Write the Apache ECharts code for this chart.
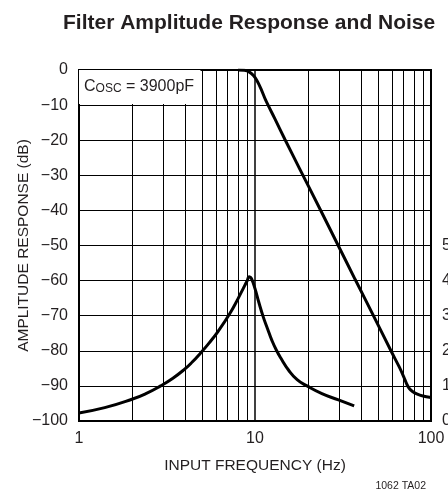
<!DOCTYPE html>
<html><head><meta charset="utf-8">
<script src="https://cdn.jsdelivr.net/npm/echarts@6/dist/echarts.min.js"></script>
<style>html,body{margin:0;padding:0;background:#fff}#c{width:448px;height:497px}</style>
</head><body><div id="c"></div>
<script>
const titleText = 'Filter Amplitude Response and Noise';
const xAxisName = 'INPUT FREQUENCY (Hz)';
const yAxisName = 'AMPLITUDE RESPONSE (dB)';
const footText = '1062 TA02';
const noteText = '{a|C}{b|OSC}{a| = 3900pF}';
const minorGridFreq = [2,3,4,5,6,7,8,9,20,30,40,50,60,70,80,90];

// Amplitude response (left axis, dB)
const ampFreq = [8.0, 8.7, 9.3, 9.8, 10.25, 10.8, 11.5, 13, 14.8, 18, 23.4, 29.7, 37.1, 47, 59.5, 66, 70, 73, 75.5, 78.5, 83, 90, 100];
const ampDb   = [0, -0.1, -0.6, -1.6, -3.0, -5.3, -8.6, -14.0, -19.8, -28.3, -39.6, -50, -59.7, -69.9, -80.2, -84.6, -87.4, -89.6, -90.8, -91.6, -92.3, -92.9, -93.3];

// Noise (right axis units)
const noiseFreq = [1, 1.4, 2.0, 2.4, 2.91, 3.4, 3.97, 4.4, 4.91, 5.48, 6.2, 7.21, 8.0, 8.58, 9.0, 9.28, 9.54, 10.0, 10.5, 11.15, 11.78, 12.44, 13.28, 14.23, 15.46, 17.35, 19.75, 24.0, 29.8, 36.6];
const noiseVal  = [0.23, 0.38, 0.62, 0.78, 1.00, 1.21, 1.47, 1.68, 1.94, 2.22, 2.57, 3.07, 3.48, 3.78, 3.98, 4.11, 4.06, 3.77, 3.39, 2.96, 2.63, 2.31, 2.00, 1.74, 1.46, 1.18, 1.00, 0.78, 0.60, 0.43];

const FONT = "'Liberation Sans', Arial, sans-serif";
const chart = echarts.init(document.getElementById('c'), null, {renderer: 'canvas'});
chart.setOption({
  animation: false,
  backgroundColor: '#fff',
  title: [{
    text: titleText, left: 58, top: 8,
    textStyle: {fontFamily: FONT, fontWeight: 'bold', fontSize: 21, color: '#231f20'}
  }, {
    text: footText, right: 17, bottom: 0,
    textStyle: {fontFamily: FONT, fontWeight: 'normal', fontSize: 10.5, color: '#231f20'}
  }],
  grid: {left: 79, right: 17, top: 70, bottom: 76, containLabel: false, outerBoundsMode: 'none',
    show: true, borderColor: '#000', borderWidth: 2, backgroundColor: 'transparent'},
  xAxis: {
    type: 'log', logBase: 10, min: 1, max: 100,
    name: xAxisName, nameLocation: 'middle', nameGap: 37, nameMoveOverlap: false,
    nameTextStyle: {fontFamily: FONT, fontSize: 15.5, color: '#231f20'},
    axisLine: {show: false}, axisTick: {show: false},
    axisLabel: {fontFamily: FONT, fontSize: 16, color: '#231f20', margin: 10},
    splitLine: {show: true, lineStyle: {color: '#000', width: 1.5}}
  },
  yAxis: [{
    type: 'value', min: -100, max: 0, interval: 10,
    name: yAxisName, nameLocation: 'middle', nameGap: 47, nameMoveOverlap: false,
    nameTextStyle: {fontFamily: FONT, fontSize: 15.5, color: '#231f20'},
    axisLine: {show: false}, axisTick: {show: false},
    axisLabel: {fontFamily: FONT, fontSize: 16, color: '#231f20', margin: 11,
      formatter: v => (v < 0 ? '\u2212' + Math.abs(v) : String(v))},
    splitLine: {show: true, lineStyle: {color: '#000', width: 1}}
  }, {
    type: 'value', min: 0, max: 10, interval: 1, position: 'right',
    axisLine: {show: false}, axisTick: {show: false}, splitLine: {show: false},
    axisLabel: {fontFamily: FONT, fontSize: 16, color: '#231f20', margin: 11,
      formatter: v => (v <= 5 ? String(v) : '')}
  }],
  series: [{
    type: 'line', name: 'Amplitude', yAxisIndex: 0, z: 10,
    data: ampFreq.map((f, i) => [f, ampDb[i]]),
    showSymbol: false, smooth: 0.35,
    lineStyle: {color: '#000', width: 3},
    markLine: {
      silent: true, symbol: 'none', z: 1, animation: false,
      label: {show: false},
      lineStyle: {color: '#000', width: 1, type: 'solid'},
      data: minorGridFreq.map(v => ({xAxis: v}))
    },
    markArea: {
      silent: true, z: 8,
      itemStyle: {color: '#fff', opacity: 1},
      label: {
        show: true, position: 'insideLeft', distance: 5, offset: [0, -2],
        formatter: noteText,
        rich: {
          a: {fontFamily: FONT, fontSize: 16, color: '#231f20', lineHeight: 20, verticalAlign: 'bottom'},
          b: {fontFamily: FONT, fontSize: 12, color: '#231f20', lineHeight: 20, verticalAlign: 'bottom', padding: [4, 0, 0, 0]}
        }
      },
      data: [[{coord: [1, 0]}, {coord: [4.9, -9.7]}]]
    }
  }, {
    type: 'line', name: 'Noise', yAxisIndex: 1, z: 10,
    data: noiseFreq.map((f, i) => [f, noiseVal[i]]),
    showSymbol: false, smooth: 0.5,
    lineStyle: {color: '#000', width: 3}
  }]
});
</script>
</body></html>
